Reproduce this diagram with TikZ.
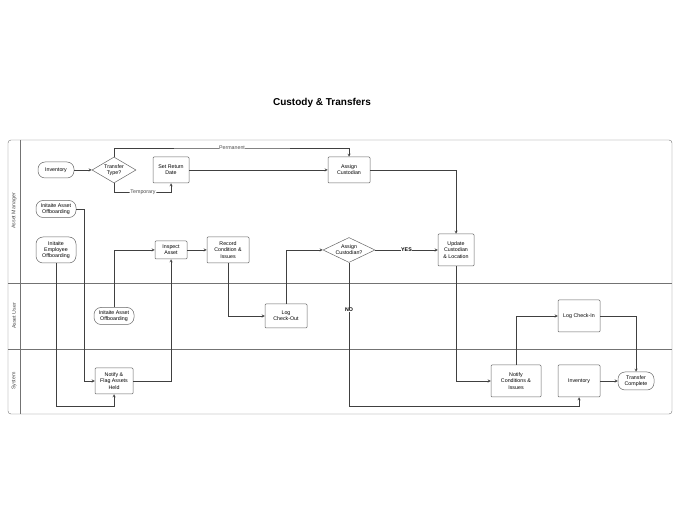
\documentclass[tikz,border=0pt]{standalone}
\usepackage{fontspec}
\setmainfont{Liberation Sans}
\usetikzlibrary{shapes,arrows,positioning,calc}

\begin{document}
\begin{tikzpicture}[x=1pt, y=-1pt, font=\fontsize{5.3}{6.2}\selectfont]
\tikzstyle{task} = [rectangle, draw=black!60, line width=0.5pt, rounded corners=1pt, align=center, inner sep=1pt]
\tikzstyle{pill} = [rectangle, draw=black!60, line width=0.5pt, rounded corners=7pt, align=center, inner sep=1pt]
\tikzstyle{choice} = [diamond, draw=black!60, line width=0.5pt, aspect=1.8, align=center, inner sep=0pt]
\tikzstyle{arrow} = [draw=black!75, line width=0.4pt, ->, >=stealth]
\tikzstyle{lbl} = [fill=white, inner sep=0.5pt, text=black!70]

\useasboundingbox (0,0) rectangle (680,510);
\node[font=\fontsize{10}{12}\selectfont\bfseries] (title) at (322,103) {Custody \& Transfers};

% swimlanes
\draw[black!55, line width=0.4pt, rounded corners=3pt] (8,140) rectangle (672,414);
\draw[black!55, line width=0.4pt] (20,140) -- (20,414);
\draw[black!55, line width=0.4pt] (8,283) -- (672,283);
\draw[black!55, line width=0.4pt] (8,349) -- (672,349);
\node[rotate=90, text=black!70] (lane1) at (14,211) {Asset Manager};
\node[rotate=90, text=black!70] (lane2) at (14,316) {Asset User};
\node[rotate=90, text=black!70] (lane3) at (14,381) {System};

% asset manager lane
\node[pill, minimum width=36, minimum height=16] (inv) at (56,170) {Inventory};
\node[choice, minimum width=44, minimum height=26] (ttype) at (114,170) {Transfer\\Type?};
\node[task, minimum width=36, minimum height=26] (setret) at (171,170) {Set Return\\Date};
\node[task, minimum width=42, minimum height=26] (assign) at (349,170) {Assign\\Custodian};
\node[pill, minimum width=40, minimum height=17] (offasset) at (56,209) {Initaite Asset\\Offboarding};
\node[pill, minimum width=40, minimum height=26] (offemp) at (56,250) {Initaite\\Employee\\Offboarding};
\node[task, minimum width=32, minimum height=18] (inspect) at (171,250) {Inspect\\Asset};
\node[task, minimum width=42, minimum height=26] (record) at (228,250) {Record\\Condition \&\\Issues};
\node[choice, minimum width=52, minimum height=24] (askcust) at (349,250) {Assign\\Custodian?};
\node[task, minimum width=36, minimum height=32] (update) at (456,250) {Update\\Custodian\\\& Location};

% asset user lane
\node[pill, minimum width=40, minimum height=17] (useroff) at (114,316) {Initaite Asset\\Offboarding};
\node[task, minimum width=42, minimum height=24] (checkout) at (286,316) {Log\\Check-Out};
\node[task, minimum width=42, minimum height=32] (checkin) at (579,316) {Log Check-In};

% system lane
\node[task, minimum width=38, minimum height=26] (flag) at (114,381) {Notify \&\\Flag Assets\\Held};
\node[task, minimum width=50, minimum height=32] (notcond) at (516,381) {Notify\\Conditions \&\\Issues};
\node[task, minimum width=42, minimum height=32] (inv2) at (579,381) {Inventory};
\node[pill, minimum width=36, minimum height=18] (done) at (636,381) {Transfer\\Complete};

\draw [arrow] (inv) -- (ttype);
\draw [arrow] (ttype.north) |- (232,148) node[lbl] {Permanent} -| (assign.north);
\draw [arrow] (ttype.south) |- (143,192) node[lbl] {Temporary} -| (setret.south);
\draw [arrow] (setret) -- (assign);
\draw [arrow] (assign.east) -| (update.north);
\draw [arrow] (offasset.east) -| (84,381) -- (flag.west);
\draw [arrow] (offemp.south) |- (114,406) -- (flag.south);
\draw [arrow] (useroff.north) |- (inspect.west);
\draw [arrow] (flag.east) -| (inspect.south);
\draw [arrow] (inspect) -- (record);
\draw [arrow] (record.south) |- (checkout.west);
\draw [arrow] (checkout.north) |- (askcust.west);
\draw [arrow] (askcust) -- node[lbl, font=\fontsize{5.3}{6.2}\selectfont\bfseries, text=black] {YES} (update);
\draw [arrow] (askcust.south) -- node[lbl, pos=0.33, font=\fontsize{5.3}{6.2}\selectfont\bfseries, text=black] {NO} (349,406) -| (inv2.south);
\draw [arrow] (update.south) |- (notcond.west);
\draw [arrow] (notcond.north) |- (checkin.west);
\draw [arrow] (checkin.east) -| (done.north);
\draw [arrow] (inv2) -- (done);
\end{tikzpicture}
\end{document}
